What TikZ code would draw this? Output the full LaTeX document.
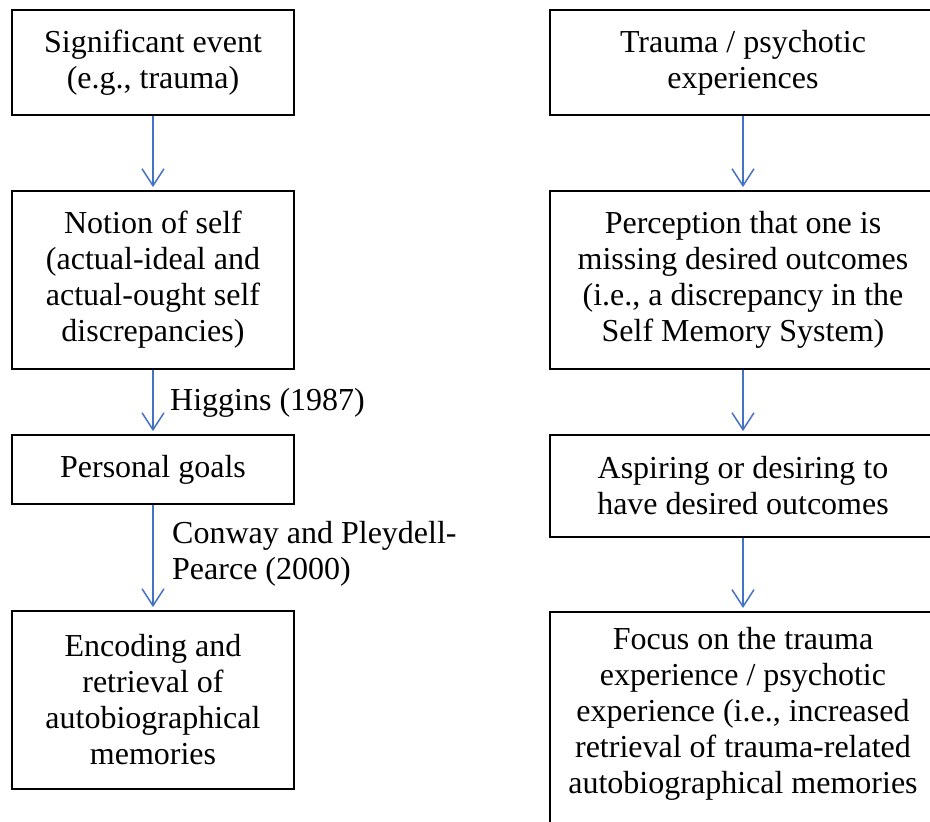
\documentclass[tikz,border=0pt]{standalone}
\usepackage{fontspec}
\setmainfont{Liberation Serif}
\usetikzlibrary{arrows.meta}
\definecolor{arrowblue}{RGB}{68,114,196}
\begin{document}
\begin{tikzpicture}[x=1pt,y=-1pt,
 box/.style={draw=black,line width=1.8pt,align=center,font=\fontsize{32}{36}\selectfont,inner sep=0pt},
 txt/.style={align=center,font=\fontsize{32}{36}\selectfont,inner sep=0pt},
 conn/.style={draw=arrowblue,line width=1.5pt,-{Straight Barb[length=17pt,width=22pt,line width=1.5pt]},shorten >=3pt},
 lbl/.style={font=\fontsize{32}{36}\selectfont,align=left,inner sep=0pt}]
\path[use as bounding box] (0,0) rectangle (930,822);
\clip (0,0) rectangle (930,822);
% left column
\node[box,minimum width=282pt,minimum height=105pt] (l1) at (153,62.5) {Significant event\\(e.g., trauma)};
\node[box,minimum width=282pt,minimum height=178pt] (l2) at (153,280) {Notion of self\\(actual-ideal and\\actual-ought self\\discrepancies)};
\node[box,minimum width=282pt,minimum height=69pt] (l3) at (153,469.5) {Personal goals};
\node[box,minimum width=282pt,minimum height=178pt] (l4) at (153,700) {Encoding and\\retrieval of\\autobiographical\\memories};
% right column
\node[box,minimum width=386pt,minimum height=105pt] (r1) at (743,62.5) {Trauma / psychotic\\experiences};
\node[box,minimum width=386pt,minimum height=178pt] (r2) at (743,280) {Perception that one is\\missing desired outcomes\\(i.e., a discrepancy in the\\Self Memory System)};
\node[box,minimum width=386pt,minimum height=102pt] (r3) at (743,486) {Aspiring or desiring to\\have desired outcomes};
\node[box,minimum width=386pt,minimum height=240pt,anchor=north] (r4) at (743,611) {};
\node[txt,anchor=north] (r4t) at (743,627) {Focus on the trauma\\experience / psychotic\\experience (i.e., increased\\retrieval of trauma-related\\autobiographical memories};
% connectors
\draw[conn] (l1) -- (l2);
\draw[conn] (l2) -- (l3);
\draw[conn] (l3) -- (l4);
\draw[conn] (r1) -- (r2);
\draw[conn] (r2) -- (r3);
\draw[conn] (r3.south) -- (r4.north);
% labels
\node[lbl,anchor=north west] (hig) at (170,388) {Higgins (1987)};
\node[lbl,anchor=north west] (con) at (172,521) {Conway and Pleydell-\\Pearce (2000)};
\end{tikzpicture}
\end{document}
